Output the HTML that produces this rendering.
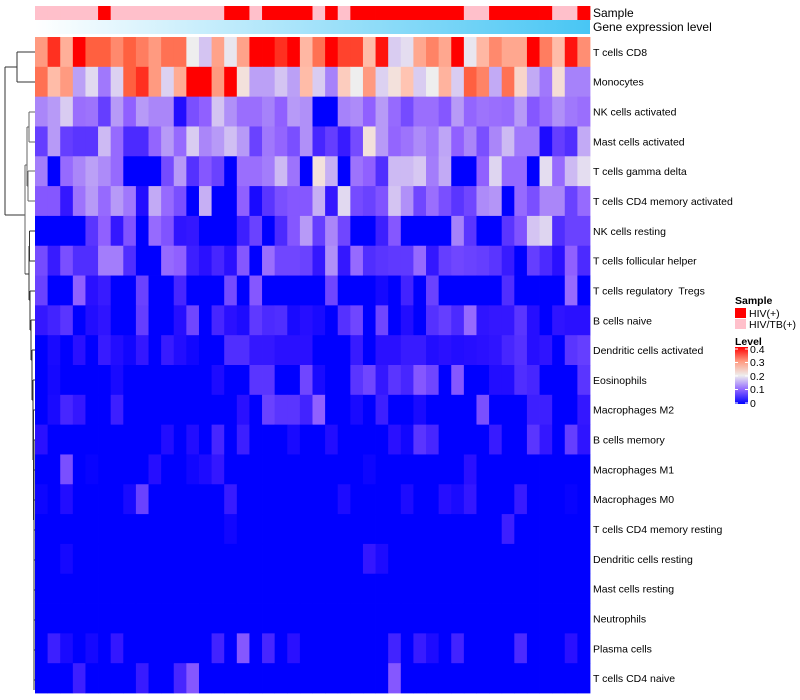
<!DOCTYPE html>
<html><head><meta charset="utf-8"><style>
body{margin:0;background:#fff;}
svg{display:block;font-family:"Liberation Sans",sans-serif;}
#rowLabels text{white-space:pre;}
</style></head><body>
<svg id="chart" width="800" height="700" viewBox="0 0 800 700">
<defs><linearGradient id="geneGrad" x1="0" x2="1" y1="0" y2="0"><stop offset="0" stop-color="#ffffff"/><stop offset="1" stop-color="#48c6f4"/></linearGradient>
<linearGradient id="levelGrad" x1="0" x2="0" y1="1" y2="0"><stop offset="0" stop-color="#0000ff"/><stop offset="0.25" stop-color="#8f66ff"/><stop offset="0.5" stop-color="#eeeeee"/><stop offset="0.75" stop-color="#ff9a80"/><stop offset="1" stop-color="#ff0000"/></linearGradient></defs>
<g id="cells"></g>
<g id="sampleBar"></g>
<rect x="35" y="20" width="555" height="14" fill="url(#geneGrad)"/>
<text x="593" y="17" font-size="12">Sample</text>
<text x="593" y="31" font-size="12">Gene expression level</text>
<g id="rowLabels" font-size="10.5"></g>
<g stroke="#333" stroke-width="1" fill="none">
<path d="M5,67V215M5,67H17M5,215H25M17,52V82M17,52H35M17,82H35"/>
<path d="M25,165V274M25,165H27M27,127V186M27,127H29M27,186H28M29,112V142M29,112H35M29,142H35M28,171V201M28,171H35M28,201H35" stroke="#666"/>
<path d="M25,274H29M29,246V300M29,246H29.5M29.5,231V261M29.5,231H35M29.5,261H35M29,300H30M30,291V330M30,291H35M30,330H31M31,320V360M31,320H35M31,360H32M32,350V400M32,350H35M32,400H33M33,380V460M33,380H35M33,460H33.5M33.5,410V520M33.5,410H35M33.5,520H34M34,440V690M34,440H35M34,470H35M34,500H35M34,530H35M34,560H35M34,590H35M34,620H35M34,650H35M34,680H35"/>
</g>
<g font-size="10.5">
<text x="735" y="304" font-weight="bold">Sample</text>
<rect x="735" y="308" width="11" height="10" fill="#ff0000"/>
<text x="749" y="317">HIV(+)</text>
<rect x="735" y="319" width="11" height="10" fill="#ffc0cb"/>
<text x="749" y="328">HIV/TB(+)</text>
<text x="735" y="345" font-weight="bold">Level</text>
<rect x="735" y="347" width="13" height="57" fill="url(#levelGrad)"/>
<g fill="#fff"><rect x="735" y="348.5" width="3" height="1"/><rect x="745" y="348.5" width="3" height="1"/><rect x="735" y="362" width="3" height="1"/><rect x="745" y="362" width="3" height="1"/><rect x="735" y="375.5" width="3" height="1"/><rect x="745" y="375.5" width="3" height="1"/><rect x="735" y="389" width="3" height="1"/><rect x="745" y="389" width="3" height="1"/><rect x="735" y="402.5" width="3" height="1"/><rect x="745" y="402.5" width="3" height="1"/></g>
<text x="750" y="353">0.4</text>
<text x="750" y="366">0.3</text>
<text x="750" y="380">0.2</text>
<text x="750" y="393">0.1</text>
<text x="750" y="407">0</text>
</g>
</svg>
<script>
const rowNames=["T cells CD8","Monocytes","NK cells activated","Mast cells activated","T cells gamma delta","T cells CD4 memory activated","NK cells resting","T cells follicular helper","T cells regulatory  Tregs","B cells naive","Dendritic cells activated","Eosinophils","Macrophages M2","B cells memory","Macrophages M1","Macrophages M0","T cells CD4 memory resting","Dendritic cells resting","Mast cells resting","Neutrophils","Plasma cells","T cells CD4 naive"];
const sampleGroups=["T","T","T","T","T","H","T","T","T","T","T","T","T","T","T","H","H","T","H","H","H","H","T","H","T","H","H","H","H","H","H","H","H","H","T","T","H","H","H","H","H","T","T","H"];
// level scores: 0 = 0, 10 = 0.4
const rCD8=[8,9.5,7.5,10,9,9,8.3,9,8.5,8,8.7,8.7,6,5,7.8,5.8,7.8,10,10,9.5,10,7.3,8.7,10,9.3,9.3,7.2,9.8,5.2,5.6,7.7,8.4,7.7,10,5.8,7.3,8.3,7.7,7.7,10,8.5,7.2,9.8,8.2];
const rMono=[8.7,7.2,8,4.3,5.5,3.5,5.3,9,9.5,8,5.3,7.6,10,10,8,10,6.3,4.3,4.3,5,4.3,7.2,5.2,3.7,6.8,6,8,5.3,6.3,7,5.2,6,7.4,5.2,9,8.4,4.5,8.7,6.6,4.5,3.5,6.4,3.7,3.7];
const rNKa=[3.8,4.2,5.2,3.3,3.4,2.2,4.2,3,4.2,3.8,3.8,.8,2.6,3,5,4,3.3,3.3,3.7,3,4.2,4,0,0,3.7,3.9,3,4.2,3.2,2.5,3.3,3.3,2.8,4.2,3.1,3.4,3.3,3.2,4.2,2.8,3.3,4,3.5,3.3];
const rMastA=[2.2,4.2,2.2,2,2,4.8,3.2,1.7,1.7,3.1,4.2,3.2,5.2,3.8,4.2,4.9,4.2,2.3,3.5,3.1,2.6,4,1.6,2.2,1.3,2.5,6.3,4.2,3.1,3.4,3.9,3.5,4.4,3,3.8,2.6,3.8,4.8,3.5,3.5,.7,2.2,1.8,4.5];
const rGD=[3.6,0,3.2,3.8,4.3,3.9,3.2,0,0,0,2.5,4.2,1.9,2.8,2.3,0,3.3,3.3,3.6,4.8,3.4,0,6.3,4.6,0,3.4,3,1.8,4.8,4.8,5.1,3.6,4.5,0,0,3,5.4,3.2,3.2,0,5.6,3.2,4.8,5.6];
const rCD4MA=[2.8,2.8,1.2,3.4,4.2,3.2,4.2,3.5,.8,4.5,3.2,2.6,0,4.6,0,0,3,.6,2,2.6,2.8,2.8,4.6,1.2,5.5,2.5,2.3,2.7,5,4,2.4,3.3,2.6,2,2.4,3.9,4.1,0,3.2,2.6,3.8,3.8,2.3,3.2];
const rNKr=[0,0,0,0,2,3,1.2,2.7,0,3.2,2.7,1.1,1.2,0,0,0,1.4,2.3,0,1.7,2.8,4.2,2.2,3.8,2.4,0,0,1.4,2.8,0,0,0,0,3.7,2,0,0,2,2.7,5,5.4,1.8,2.3,2.3];
const rTfh=[2.5,1.3,2.6,1.8,1.8,3.6,3.6,1.8,0,0,3.2,3,1.4,1,1.6,1,2.8,0,3.3,2.4,2.4,2.3,1.2,4,1.2,3.2,1.8,2,2.1,2.1,3.2,1.2,2.2,2.4,2.3,2.2,2,1.3,0,2.2,1.7,1,3,1.7];
const rTreg=[2.3,0,0,3,1,1.3,0,0,2.3,0,0,1.6,0,0,0,2.5,0,2.8,0,0,0,0,0,2.4,0,0,0,.5,0,1.5,0,2.3,0,0,0,0,0,1.8,0,0,0,0,3.2,0];
const rBn=[1.2,1.5,2,0,.8,1.1,0,0,2.2,0,0,.9,2.4,0,1.6,1,.7,2.1,1.7,1.8,.6,.9,.6,0,1.9,2.4,0,2.4,0,.8,0,1.9,2.2,1.7,3.2,1.1,1.2,1.2,2,.9,0,1.1,1,1];
const rDCa=[0,.6,0,1,0,1.3,.8,.4,1.2,0,1.3,.8,.4,0,0,1.8,1.8,1.2,1.2,1,1,1,0,0,0,1.3,0,1,1,1.3,1.3,.8,1,.8,.9,1,1.1,1.6,1.9,.9,1.1,0,2,2.2];
const rEos=[0,.5,0,0,0,0,.6,0,0,0,0,0,0,0,.7,0,0,2,2,0,0,2.4,.6,0,0,2,2.4,1.2,2,1.6,2.8,2.4,0,2.8,0,0,.8,.8,1.8,1.6,0,0,0,2];
const rM2=[0,.6,1.6,1.2,0,0,1.4,0,0,0,0,0,0,0,0,0,1,0,2.3,2,2,1.5,3,0,0,.6,0,1.4,0,0,.6,0,0,0,0,2.6,0,0,0,1.4,1.4,0,0,1.2];
const rBm=[1,0,0,0,0,0,0,0,0,0,.8,0,.8,0,1.6,0,1.4,0,0,0,.6,0,0,.8,0,0,0,0,1,.4,2,1.6,0,0,0,0,1.3,0,0,2,1.2,0,2.2,1.1];
const rM1=[0,0,2.6,0,.2,0,0,0,0,.9,0,0,.4,.7,1.2,0,0,0,0,0,0,0,0,0,0,0,.3,0,0,0,0,0,0,0,1,0,0,0,0,0,0,0,0,0];
const rM0=[.3,0,.8,0,0,0,0,.6,2.3,0,0,0,0,0,0,1.3,0,0,0,0,0,0,0,0,.7,0,0,0,0,.7,0,0,.9,.6,1.2,0,0,0,1.3,0,0,0,.2,0];
const rCD4MR=[0,0,0,0,0,0,0,0,0,0,0,0,0,0,0,.4,0,0,0,0,0,0,0,0,0,0,0,0,0,0,0,0,0,0,0,0,0,1.4,0,0,0,0,0,0];
const rDCr=[0,0,.5,0,0,0,0,0,0,0,0,0,0,0,0,0,0,0,0,0,0,0,0,0,0,0,1.2,.7,0,0,0,0,0,0,0,0,0,0,0,0,0,0,0,0];
const rMastR=[0,0,0,0,0,0,0,0,0,0,0,0,0,0,0,0,0,0,0,0,0,0,0,0,0,0,0,0,0,0,0,0,0,0,0,0,0,0,0,0,0,0,0,0];
const rNeut=[0,0,0,0,0,0,0,0,0,0,0,0,0,0,0,0,0,0,0,0,0,0,0,0,0,0,0,0,0,0,0,0,0,0,0,0,0,0,0,0,0,0,0,0];
const rPlasma=[0,1.4,.6,0,.5,0,1.2,0,0,0,0,0,0,0,1.5,0,2.8,0,1.6,0,1,0,0,0,0,0,0,0,1.5,0,1.3,.7,0,1.5,0,0,0,0,1.7,0,0,0,1,0];
const rCD4N=[0,0,0,1.4,0,0,0,0,1.3,0,0,1.6,2.8,0,0,0,0,0,0,0,0,0,0,0,0,0,0,0,2.8,0,0,0,0,0,0,0,0,0,0,0,0,0,0,0];
const matrix=[rCD8,rMono,rNKa,rMastA,rGD,rCD4MA,rNKr,rTfh,rTreg,rBn,rDCa,rEos,rM2,rBm,rM1,rM0,rCD4MR,rDCr,rMastR,rNeut,rPlasma,rCD4N];

const NS="http://www.w3.org/2000/svg";
const X0=35,X1=590,Y0=37,Y1=693;
const nCol=sampleGroups.length,nRow=rowNames.length;
const cw=(X1-X0)/nCol,rh=(Y1-Y0)/nRow;
const xPos=i=>X0+i*cw, yPos=j=>Y0+j*rh;
const stops=[[0,0,255],[42,16,255],[90,53,255],[144,96,255],[176,144,248],[212,196,242],[238,238,238],[255,196,178],[255,154,128],[255,96,64],[255,0,0]];
function color(v){v=Math.max(0,Math.min(10,v));const i=Math.min(9,Math.floor(v)),t=v-i;const a=stops[i],b=stops[i+1];
return "rgb("+a.map((c,k)=>Math.round(c+(b[k]-c)*t)).join(",")+")";}
const cells=document.getElementById('cells');
matrix.forEach((row,j)=>row.forEach((v,i)=>{
 const r=document.createElementNS(NS,'rect');
 
 
 r.setAttribute('x',xPos(i));r.setAttribute('y',yPos(j));
 r.setAttribute('width',cw+0.4);r.setAttribute('height',rh+0.4);
 r.setAttribute('fill',color(v));cells.appendChild(r);
}));
const sb=document.getElementById('sampleBar');
sampleGroups.forEach((g,i)=>{
 const r=document.createElementNS(NS,'rect');
 
 
 r.setAttribute('x',xPos(i));r.setAttribute('y',6);
 r.setAttribute('width',cw+0.4);r.setAttribute('height',14);
 r.setAttribute('fill',g==="H"?"#ff0000":"#ffc0cb");sb.appendChild(r);
});
const rl=document.getElementById('rowLabels');
rowNames.forEach((n,j)=>{
 const t=document.createElementNS(NS,'text');
 
 
 t.setAttribute('x',593);t.setAttribute('y',yPos(j)+rh/2+4);
 t.textContent=n;rl.appendChild(t);
});
</script>
</body></html>
